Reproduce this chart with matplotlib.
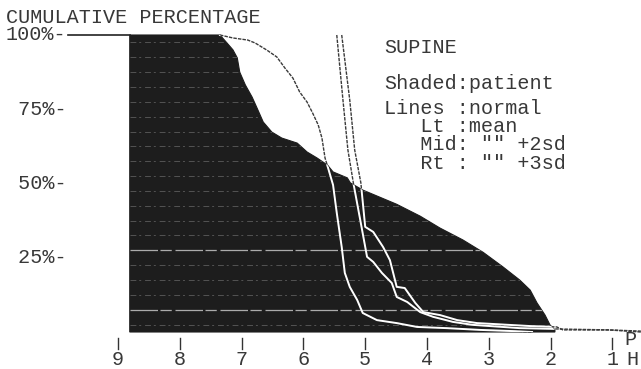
import numpy as np
import matplotlib
matplotlib.use("Agg")
import matplotlib.pyplot as plt
from matplotlib.patches import Polygon

# ---------------- data ----------------
ph_ticks = [9, 8, 7, 6, 5, 4, 3, 2, 1]
pct_levels = [100, 75, 50, 25]
pct_labels = ["100%-", " 75%-", " 50%-", " 25%-"]

# patient cumulative curve (shaded)
patient_ph = [8.81, 7.35, 7.24, 7.14, 7.07, 7.03, 6.94, 6.83, 6.75, 6.65, 6.51,
              6.35, 6.10, 5.94, 5.78, 5.61, 5.52, 5.29, 5.24, 5.04, 4.49, 4.11,
              3.79, 3.42, 3.09, 2.77, 2.50, 2.33, 2.22, 2.09, 2.01, 1.93]
patient_pct = [100, 100, 97.4, 95.0, 92.3, 87.5, 83.2, 79.1, 75.4, 70.7, 67.3,
               65.3, 63.6, 60.6, 58.6, 56.2, 53.9, 51.9, 50.2, 47.8, 43.0, 39.0,
               35.0, 31.0, 26.8, 21.9, 17.5, 14.1, 9.8, 5.7, 2.4, 0.7]

# normal: mean
mean_ph = [7.35, 7.14, 6.90, 6.78, 6.59, 6.43, 6.30, 6.17, 6.06, 5.94, 5.85,
           5.76, 5.70, 5.65, 5.60, 5.52, 5.46, 5.38, 5.33, 5.25, 5.13, 5.04,
           4.81, 4.49, 4.16, 3.68, 3.14, 2.60, 2.30]
mean_pct = [100, 99.0, 98.3, 97.3, 94.9, 92.6, 88.9, 85.5, 80.8, 77.4, 73.7,
            69.7, 65.3, 58.6, 55.2, 49.5, 40.1, 28.6, 19.9, 15.2, 10.8, 6.4,
            4.0, 3.0, 1.7, 1.3, 0.7, 0.3, 0.0]

# normal: mean + 2sd
sd2_ph = [5.46, 5.36, 5.28, 5.19, 5.08, 4.97, 4.87, 4.73, 4.57, 4.49, 4.32,
          4.11, 3.90, 3.58, 3.26, 2.50, 1.85, 1.04, 0.54]
sd2_pct = [100, 78.1, 61.3, 50.0, 37.7, 25.3, 23.6, 19.9, 16.5, 11.8, 10.1,
           6.7, 5.1, 3.4, 2.4, 1.3, 1.0, 0.7, 0.3]

# normal: mean + 3sd
sd3_ph = [5.38, 5.25, 5.17, 5.07, 5.00, 4.87, 4.71, 4.60, 4.49, 4.36, 4.19,
          4.06, 3.79, 3.51, 3.19, 2.33, 1.90, 1.80, 1.07, 0.54]
sd3_pct = [100, 78.1, 61.3, 50.2, 35.4, 33.7, 28.6, 24.2, 15.2, 14.8, 9.8,
           6.7, 5.7, 4.0, 3.0, 2.0, 1.7, 0.7, 0.7, 0.0]

title = "CUMULATIVE PERCENTAGE"
legend_lines = ["SUPINE", "Shaded:patient", "Lines :normal",
                "   Lt :mean", '   Mid: "" +2sd', '   Rt : "" +3sd']

# ---------------- layout helpers (pixel -> data) ----------------
W, H = 641, 369
X9, PX_PH = 118.0, 61.8
Y0, PX_PCT = 332.0, 2.97


def ph_at(px):
    return 9 - (px - X9) / PX_PH


def pct_at(py):
    return (Y0 - py) / PX_PCT


FONT = "Liberation Mono"
FS = 14.5
TXT = "#383838"
SHADE = "#1d1d1d"

fig = plt.figure(figsize=(W / 100, H / 100), dpi=100)
ax = fig.add_axes([0, 0, 1, 1])
ax.set_xlim(ph_at(0), ph_at(W))
ax.set_ylim(pct_at(H), pct_at(0))
ax.axis("off")

# shaded patient area
verts = list(zip(patient_ph, patient_pct)) + [(patient_ph[-1], 0), (patient_ph[0], 0)]
poly = Polygon(verts, closed=True, facecolor=SHADE, edgecolor=SHADE, lw=0.8, zorder=2)
ax.add_patch(poly)

# scan-line artefacts inside shaded area
for lev in np.arange(2.5, 100, 5):
    bright = abs(lev - 27.5) < 0.1 or abs(lev - 7.5) < 0.1
    ln, = ax.plot([patient_ph[0], patient_ph[-1]], [lev, lev],
                  color="#d0d0d0" if bright else "#8a8a8a",
                  lw=0.9 if bright else 0.7,
                  ls=(0, (22, 2, 9, 3)) if bright else (0, (6, 3, 2, 4)),
                  alpha=0.8 if bright else 0.5, zorder=2.5)
    ln.set_clip_path(poly)

# 100% lead-in line
ax.plot([ph_at(68), patient_ph[0]], [100, 100], color="#222222", lw=1.2, zorder=3)

# normal lines: black on white, white on shaded (XOR look)
for xs, ys in [(mean_ph, mean_pct), (sd2_ph, sd2_pct), (sd3_ph, sd3_pct)]:
    ax.plot(xs, ys, color="#3a3a3a", lw=1.0, ls=(0, (2.5, 0.8)), zorder=3)
    w, = ax.plot(xs, ys, color="white", lw=1.4, zorder=4)
    w.set_clip_path(poly)

# x ticks and labels
for v in ph_ticks:
    ax.plot([v, v], [pct_at(338), pct_at(349)], color="#333333", lw=1.0, zorder=3)
    ax.text(v, pct_at(365), str(v), ha="center", va="baseline",
            family=FONT, fontsize=FS, color=TXT)
ax.text(ph_at(630), pct_at(345), "P", ha="center", va="baseline",
        family=FONT, fontsize=FS, color=TXT)
ax.text(ph_at(632), pct_at(365), "H", ha="center", va="baseline",
        family=FONT, fontsize=FS, color=TXT)

# y labels
for lev, lab in zip(pct_levels, pct_labels):
    ax.text(ph_at(6), lev, lab, ha="left", va="center",
            family=FONT, fontsize=FS, color=TXT)

# title
ax.text(ph_at(6), pct_at(23), title, ha="left", va="baseline",
        family=FONT, fontsize=FS, color=TXT)

# legend text
baselines = [53, 89, 114, 132, 150, 169]
for s, b in zip(legend_lines, baselines):
    ax.text(ph_at(384), pct_at(b), s, ha="left", va="baseline",
            family=FONT, fontsize=FS, color=TXT)

fig.savefig("out.png", dpi=100, facecolor="white")
